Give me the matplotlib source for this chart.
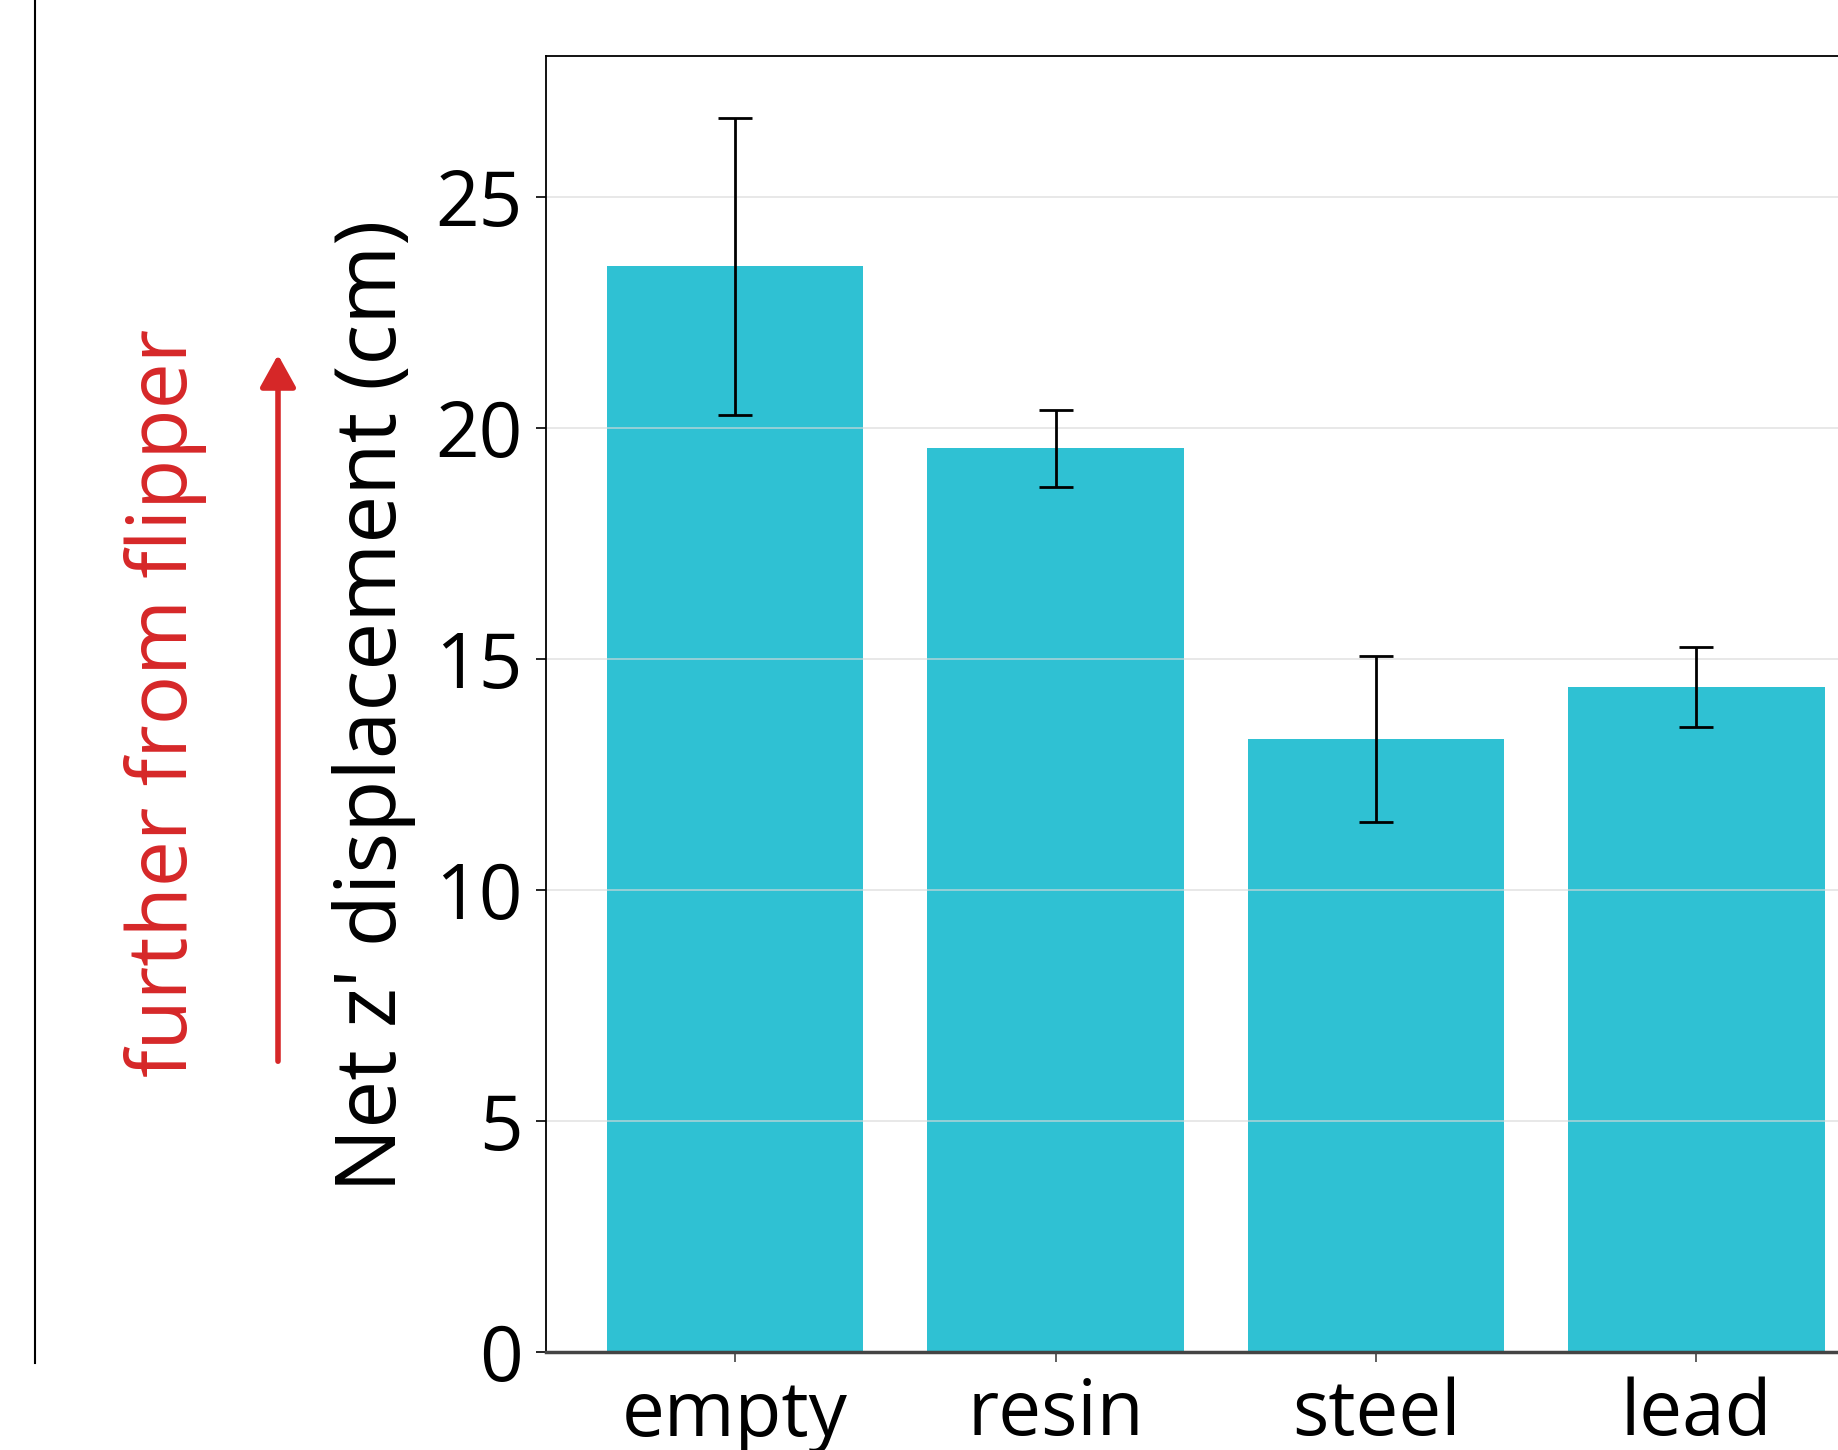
import numpy as np
import matplotlib.pyplot as plt
from matplotlib.lines import Line2D
from matplotlib.patches import FancyArrowPatch

plt.rcParams['font.family'] = ['Open Sans', 'DejaVu Sans']

# data
materials = ["empty", "resin", "steel", "lead"]
displacement = [23.5, 19.56, 13.27, 14.4]   # cm
disp_err = [3.22, 0.84, 1.8, 0.87]          # cm

BAR_COLOR = "#2fc1d3"
W, H = 1838, 1450

fig = plt.figure(figsize=(W / 100, H / 100), dpi=100)
ax = fig.add_axes([546 / W, 1 - 1352 / H, 1339.5 / W, 1296 / H])

x = np.arange(len(materials))
ax.bar(x, displacement, width=0.8, color=BAR_COLOR,
       yerr=disp_err, capsize=12.5,
       error_kw=dict(ecolor="black", elinewidth=2.0, capthick=2.0))

ax.set_xticks(x)
ax.set_xticklabels(materials)
ax.set_yticks([0, 5, 10, 15, 20, 25])
ax.tick_params(axis="both", labelsize=55)
ax.tick_params(axis="y", length=7, width=1.2, pad=10, color="black")
ax.tick_params(axis="x", length=7, width=1.2, pad=11, color="#444444")

ax.yaxis.grid(True, color="#d9d9d9", linewidth=1.2, alpha=0.7)
ax.xaxis.grid(False)

for side in ["left", "top"]:
    ax.spines[side].set_color("black")
    ax.spines[side].set_linewidth(1.3)
ax.spines["bottom"].set_color("#444444")
ax.spines["bottom"].set_linewidth(2.5)

fig.text(374 / W, 1 - 706 / H, "Net z' displacement (cm)", rotation=90,
         ha="center", va="center", fontsize=61.5)

fig.text(166 / W, 1 - 703 / H, "further from flipper", rotation=90,
         ha="center", va="center", fontsize=59, color="#d62728")
fig.patches.append(FancyArrowPatch(
    (278 / W, 1 - 1064 / H), (278 / W, 1 - 352 / H),
    transform=fig.transFigure, arrowstyle="-|>,head_length=0.9,head_width=0.5",
    mutation_scale=22, color="#d62728", linewidth=4))

# panel frame line on the left
fig.add_artist(Line2D([35 / W, 35 / W], [1, 1 - 1363 / H],
                      transform=fig.transFigure, color="black", linewidth=1.5))

fig.savefig("out.png", dpi=100)
